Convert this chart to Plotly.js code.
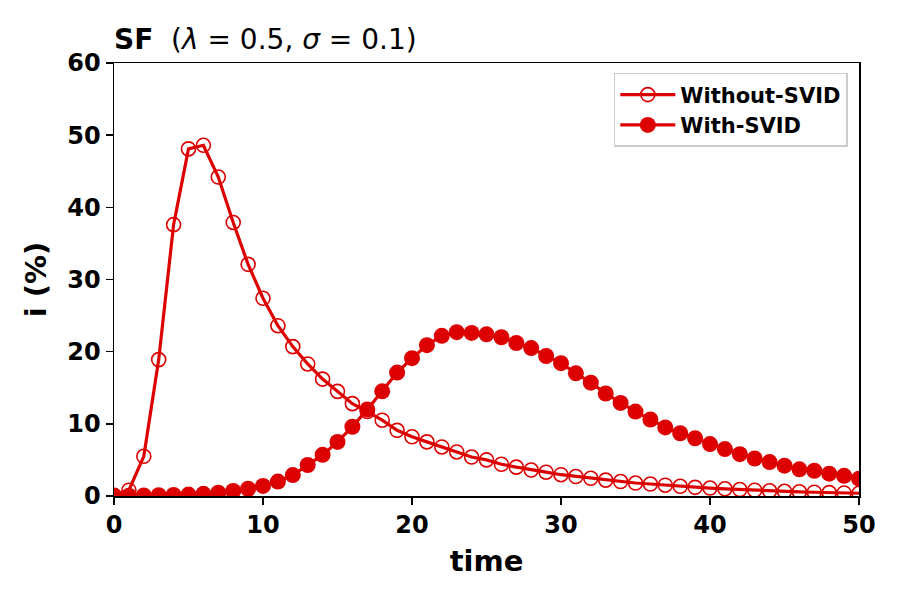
<!DOCTYPE html>
<html>
<head>
<meta charset="utf-8">
<script src="https://cdn.plot.ly/plotly-3.0.1.min.js"></script>
<style>
  html, body { margin: 0; padding: 0; background: #fff; }
  #chart { width: 900px; height: 600px; }
</style>
</head>
<body>
<div id="chart"></div>
<script>
// time steps 0..50
const time = [];
for (let t = 0; t <= 50; t++) time.push(t);

// infected share (%)
const without_svid = [
	0.1, 0.8, 5.5, 18.9, 37.6, 48.1, 48.6, 44.2, 37.9, 32.1,
	27.4, 23.6, 20.7, 18.3, 16.2, 14.5, 12.8, 11.7, 10.5, 9.1,
	8.2, 7.5, 6.8, 6.1, 5.4, 5.0, 4.4, 4.0, 3.6, 3.3,
	2.95, 2.7, 2.45, 2.2, 2.0, 1.8, 1.66, 1.5, 1.35, 1.2,
	1.1, 1.0, 0.9, 0.8, 0.72, 0.65, 0.58, 0.52, 0.47, 0.42,
	0.38
];

const with_svid = [
	0.05, 0.05, 0.08, 0.1, 0.15, 0.2, 0.3, 0.45, 0.7, 1.0,
	1.4, 2.0, 2.9, 4.3, 5.7, 7.5, 9.6, 12.0, 14.5, 17.1,
	19.1, 20.9, 22.2, 22.7, 22.6, 22.4, 22.0, 21.2, 20.5, 19.4,
	18.4, 17.0, 15.7, 14.2, 12.9, 11.7, 10.6, 9.5, 8.7, 8.0,
	7.2, 6.5, 5.8, 5.2, 4.7, 4.2, 3.7, 3.5, 3.1, 2.8,
	2.4
];

const series_names = ['Without-SVID', 'With-SVID'];
const red = '#dd0000';
const font_family = 'DejaVu Sans, sans-serif';

var trace1 = {
	x: time,
	y: without_svid,
	name: series_names[0],
	type: 'scatter',
	mode: 'lines+markers',
	line: {color: red, width: 3.2},
	marker: {symbol: 'circle-open', size: 14, color: red, line: {color: red, width: 1.6}}
};

var trace2 = {
	x: time,
	y: with_svid,
	name: series_names[1],
	type: 'scatter',
	mode: 'lines+markers',
	line: {color: red, width: 3.2},
	marker: {symbol: 'circle', size: 16, color: red}
};

var axis_common = {
	showgrid: false,
	zeroline: false,
	showline: true,
	linecolor: '#000',
	linewidth: 1.5,
	mirror: true,
	ticks: 'outside',
	ticklen: 7,
	tickwidth: 1.5,
	tickcolor: '#000',
	tickfont: {family: font_family, size: 24, color: '#000', weight: 'bold'}
};

// mathtext puts wider gaps round "=", so pad with no-break spaces
var title_text = '<b>SF</b>&nbsp; (<i>λ</i>&nbsp;=&nbsp;0.5, <i>σ</i>&nbsp;=&nbsp;0.1)';

var layout = {
	width: 900,
	height: 600,
	paper_bgcolor: '#fff',
	plot_bgcolor: '#fff',
	margin: {l: 114, r: 41, t: 63, b: 104},
	showlegend: true,
	title: {
		text: title_text,
		font: {family: font_family, size: 28, color: '#000'},
		xref: 'paper', x: 0, xanchor: 'left',
		yref: 'container', y: 0.935, yanchor: 'middle'
	},
	xaxis: Object.assign({}, axis_common, {
		range: [0, 50],
		dtick: 10,
		title: {text: '<b>time</b>', font: {family: font_family, size: 29, color: '#000'}, standoff: 12}
	}),
	yaxis: Object.assign({}, axis_common, {
		range: [0, 60],
		dtick: 10,
		title: {text: '<b>i (%)</b>', font: {family: font_family, size: 29, color: '#000'}, standoff: 12}
	}),
	legend: {
		x: 0.985, xanchor: 'right',
		y: 0.977, yanchor: 'top',
		bgcolor: '#fff',
		bordercolor: '#cccccc',
		borderwidth: 1.5,
		font: {family: font_family, size: 21, color: '#000', weight: 'bold'},
		itemwidth: 55
	}
};

Plotly.newPlot('chart', [trace1, trace2], layout, {displayModeBar: false, staticPlot: true});
</script>
</body>
</html>
